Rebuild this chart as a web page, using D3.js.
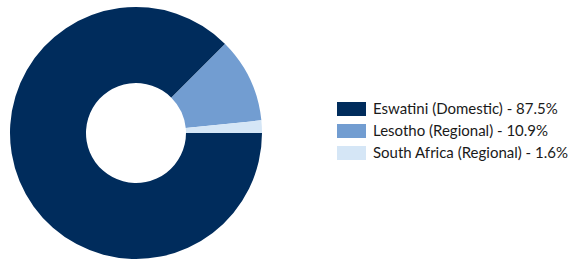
<!DOCTYPE html>
<html>
<head>
<meta charset="utf-8">
<script src="https://cdn.jsdelivr.net/npm/d3@7"></script>
<style>
  body { margin: 0; background: #fff; }
  svg text { font-family: Lato, "Open Sans", sans-serif; }
</style>
</head>
<body>
<script>
const categories = ["Eswatini (Domestic)", "Lesotho (Regional)", "South Africa (Regional)"];
const shares = [87.5, 10.9, 1.6];
const colours = ["#002c5c", "#729dd1", "#d5e6f6"];

const w = 571, h = 260;

let svg = d3.select("body").append("svg")
    .attr("width", w)
    .attr("height", h);

let data = categories.map(function (c, i) {
    return { name: c, value: shares[i], colour: colours[i] };
});

// donut starts at 3 o'clock, goes clockwise
let pie = d3.pie()
    .sort(null)
    .value(function (d) { return d.value; })
    .startAngle(Math.PI / 2)
    .endAngle(Math.PI / 2 + 2 * Math.PI);

let arc = d3.arc()
    .innerRadius(50)
    .outerRadius(126);

svg.append("g")
    .attr("transform", "translate(136,133)")
    .selectAll("path")
    .data(pie(data))
    .enter()
    .append("path")
    .attr("d", arc)
    .attr("fill", function (d) { return d.data.colour; });

// legend
let legend = svg.append("g")
    .attr("transform", "translate(337,102)");

let rows = legend.selectAll(".row")
    .data(data)
    .enter()
    .append("g")
    .attr("class", "row")
    .attr("transform", function (d, i) { return "translate(0," + (i * 22) + ")"; });

rows.append("rect")
    .attr("width", 29)
    .attr("height", 14)
    .attr("fill", function (d) { return d.colour; });

rows.append("text")
    .attr("x", 36)
    .attr("y", 7)
    .attr("dy", "0.35em")
    .attr("font-size", 15)
    .attr("fill", "#1a1a1a")
    .text(function (d) { return d.name + " - " + d.value + "%"; });
</script>
</body>
</html>
